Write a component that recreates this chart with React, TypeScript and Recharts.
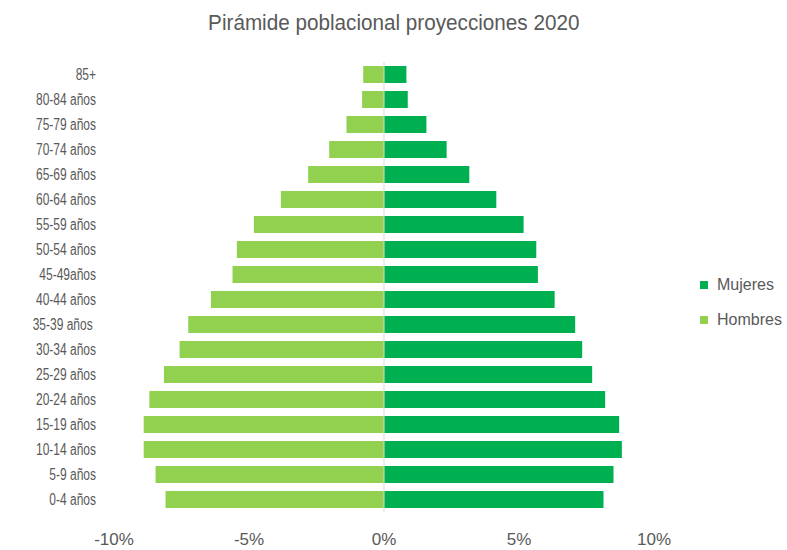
import React from 'react'
import { BarChart, Bar, XAxis, YAxis, ReferenceLine } from 'recharts'

// top to bottom, as drawn
const AGE_GROUPS = [
    '85+', '80-84 años', '75-79 años', '70-74 años', '65-69 años', '60-64 años',
    '55-59 años', '50-54 años', '45-49años', '40-44 años', '35-39 años ', '30-34 años',
    '25-29 años', '20-24 años', '15-19 años', '10-14 años', '5-9 años', '0-4 años',
]
// percent of total population
const MUJERES = [0.83, 0.88, 1.57, 2.32, 3.16, 4.16, 5.17, 5.64, 5.7, 6.32, 7.08, 7.34, 7.71, 8.19, 8.71, 8.81, 8.5, 8.13]
const HOMBRES = [0.77, 0.81, 1.39, 2.03, 2.81, 3.82, 4.82, 5.45, 5.61, 6.41, 7.25, 7.57, 8.15, 8.69, 8.9, 8.9, 8.46, 8.09]
const X_TICKS = [-10, -5, 0, 5, 10]

const FONT = "'Liberation Sans', Arial, sans-serif"
const TEXT = '#595959'
const GREEN_DARK = '#00B050'
const GREEN_LIGHT = '#92D050'

const data = AGE_GROUPS.map((age, i) => ({
    age,
    mujeres: MUJERES[i],
    hombres: -HOMBRES[i],
}))

// narrow-looking labels: squeeze horizontally around the anchor
const AgeTick = (props: any) => {
    const { x, y, payload } = props
    return (
        <text transform={`translate(${x},${y}) scale(0.75,1)`} x={0} y={0} dy="0.36em" textAnchor="end"
            fill={TEXT} fontSize={16} fontFamily={FONT} style={{ whiteSpace: 'pre' }}>
            {payload.value}
        </text>
    )
}

const PctTick = (props: any) => {
    const { x, y, payload } = props
    return (
        <text x={x} y={y} dy="0.71em" textAnchor="middle" fill={TEXT} fontSize={17} fontFamily={FONT}>
            {`${payload.value}%`}
        </text>
    )
}

export default function App() {
    return (
        <div style={{ position: 'absolute', left: 0, top: 0, width: 787, height: 550, background: '#fff' }}>
            <div style={{
                position: 'absolute', left: 0, width: 787, top: 10, textAlign: 'center',
                fontFamily: FONT, fontSize: 22, color: TEXT,
                transform: 'scaleX(0.94)', transformOrigin: '398px 0',
            }}>
                Pirámide poblacional proyecciones 2020
            </div>
            <BarChart
                width={787}
                height={550}
                data={data}
                layout="vertical"
                stackOffset="sign"
                margin={{ top: 62, right: 133, bottom: 0, left: 14 }}
            >
                <XAxis
                    type="number"
                    domain={[-10, 10]}
                    ticks={X_TICKS}
                    axisLine={false}
                    tickLine={false}
                    tickSize={0}
                    tickMargin={21}
                    height={38}
                    tick={<PctTick />}
                    interval={0}
                />
                <YAxis
                    type="category"
                    dataKey="age"
                    width={100}
                    axisLine={false}
                    tickLine={false}
                    tickSize={0}
                    tickMargin={18}
                    tick={<AgeTick />}
                    interval={0}
                />
                <Bar dataKey="hombres" stackId="p" fill={GREEN_LIGHT} barSize={17} isAnimationActive={false} />
                <Bar dataKey="mujeres" stackId="p" fill={GREEN_DARK} barSize={17} isAnimationActive={false} />
                <ReferenceLine x={0} stroke="#d9d9d9" strokeWidth={1} />
            </BarChart>
            <div style={{ position: 'absolute', left: 700, top: 275, fontFamily: FONT, fontSize: 16, color: TEXT }}>
                <div style={{ display: 'flex', alignItems: 'center', height: 20 }}>
                    <span style={{ width: 8, height: 8, background: GREEN_DARK, marginRight: 9 }} />
                    Mujeres
                </div>
                <div style={{ display: 'flex', alignItems: 'center', height: 20, marginTop: 15 }}>
                    <span style={{ width: 8, height: 8, background: GREEN_LIGHT, marginRight: 9 }} />
                    Hombres
                </div>
            </div>
        </div>
    )
}
